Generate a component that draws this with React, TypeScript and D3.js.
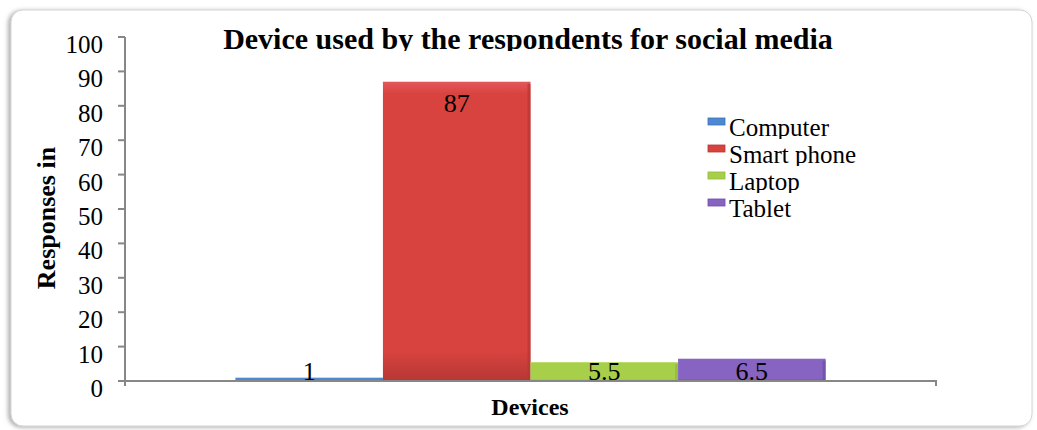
import React from "react";
import * as d3 from "d3";

const title = "Device used by the respondents for social media";
const categories = ["Devices"];
const seriesNames = ["Computer", "Smart phone", "Laptop", "Tablet"];
const seriesValues = [1, 87, 5.5, 6.5];
const yTicks = [0, 10, 20, 30, 40, 50, 60, 70, 80, 90, 100];
const seriesColors = [
  { top: "#74aae6", mid: "#4c89d2", bottom: "#3d70b4" },
  { top: "#e4585a", mid: "#d8433f", bottom: "#b63734" },
  { top: "#c9e682", mid: "#a8cf4a", bottom: "#90b83b" },
  { top: "#a383d8", mid: "#8764c2", bottom: "#6d4ca2" },
];

const W = 1037;
const H = 430;
const FONT = "'Liberation Serif', 'Times New Roman', serif";

export default function App() {
  const y = d3.scaleLinear().domain([0, 100]).range([381, 37]);
  const x0 = d3.scaleBand<string>().domain(categories).range([125, 936]).paddingInner(0).paddingOuter(0.187);
  const x1 = d3.scaleBand<string>().domain(seriesNames).range([0, x0.bandwidth()]).padding(0);
  const axisColor = "#878787";

  return (
    <svg width={W} height={H} style={{ position: "absolute", left: 0, top: 0, background: "#fff" }} fontFamily={FONT}>
      <defs>
        <filter id="shadow" x="-5%" y="-5%" width="110%" height="110%">
          <feDropShadow dx="-2.5" dy="1" stdDeviation="2" floodColor="#777" floodOpacity="0.6" />
        </filter>
        {seriesColors.map((c, i) => (
          <linearGradient key={i} id={`g${i}`} x1="0" y1="0" x2="0" y2="1">
            <stop offset="0" stopColor={c.top} />
            <stop offset="0.04" stopColor={c.mid} />
            <stop offset="0.9" stopColor={c.mid} />
            <stop offset="1" stopColor={c.bottom} />
          </linearGradient>
        ))}
        <clipPath id="titleClip">
          <rect x={0} y={0} width={W} height={51} />
        </clipPath>
        {seriesNames.map((s, i) => (
          <clipPath key={s} id={`legClip${i}`}>
            <rect x={700} y={100 + i * 27} width={220} height={39} />
          </clipPath>
        ))}
      </defs>

      <rect x={11} y={10} width={1021} height={416} rx={12} fill="#fff" stroke="#d4d4d4" strokeWidth={1} filter="url(#shadow)" />

      <text x={528} y={49} textAnchor="middle" fontSize={30} fontWeight="bold" clipPath="url(#titleClip)">
        {title}
      </text>

      {/* y axis */}
      <line x1={125} x2={125} y1={y(100)} y2={y(0)} stroke={axisColor} strokeWidth={2} />
      {yTicks.map((t) => (
        <g key={t}>
          <line x1={118} x2={125} y1={y(t)} y2={y(t)} stroke={axisColor} strokeWidth={2} />
          <text x={103} y={y(t) + 16} textAnchor="end" fontSize={25}>
            {t}
          </text>
        </g>
      ))}

      {/* bars */}
      {categories.map((cat) => (
        <g key={cat} transform={`translate(${x0(cat)},0)`}>
          {seriesNames.map((s, i) => {
            const v = seriesValues[i];
            const bx = x1(s)!;
            const bw = x1.bandwidth();
            const top = y(v);
            const h = y(0) - top;
            const c = seriesColors[i];
            const ly = Math.min(top + 30, y(0) - 1);
            return (
              <g key={s}>
                <rect x={bx} y={top} width={bw} height={h} fill={`url(#g${i})`} />
                <line x1={bx + bw - 1.5} x2={bx + bw - 1.5} y1={top + 2} y2={y(0)} stroke={c.bottom} strokeWidth={3} opacity={0.7} />
                <text x={bx + bw / 2} y={ly} textAnchor="middle" fontSize={26}>
                  {v}
                </text>
              </g>
            );
          })}
        </g>
      ))}

      {/* x axis */}
      <line x1={124} x2={936} y1={y(0)} y2={y(0)} stroke={axisColor} strokeWidth={2} />
      <line x1={125} x2={125} y1={y(0)} y2={y(0) + 5} stroke={axisColor} strokeWidth={2} />
      <line x1={936} x2={936} y1={y(0) - 1} y2={y(0) + 5} stroke={axisColor} strokeWidth={2} />

      <text x={530} y={415} textAnchor="middle" fontSize={24} fontWeight="bold">
        {categories[0]}
      </text>
      <text transform="translate(55,218) rotate(-90)" textAnchor="middle" fontSize={26} fontWeight="bold">
        Responses in
      </text>

      {/* legend */}
      {seriesNames.map((s, i) => {
        const base = 136 + i * 27;
        const c = seriesColors[i];
        return (
          <g key={s}>
            <rect x={708} y={base - 18} width={17} height={7} fill={c.mid} stroke={c.bottom} strokeWidth={0.8} />
            <text x={729} y={base} fontSize={25} clipPath={`url(#legClip${i})`}>
              {s}
            </text>
          </g>
        );
      })}
    </svg>
  );
}
